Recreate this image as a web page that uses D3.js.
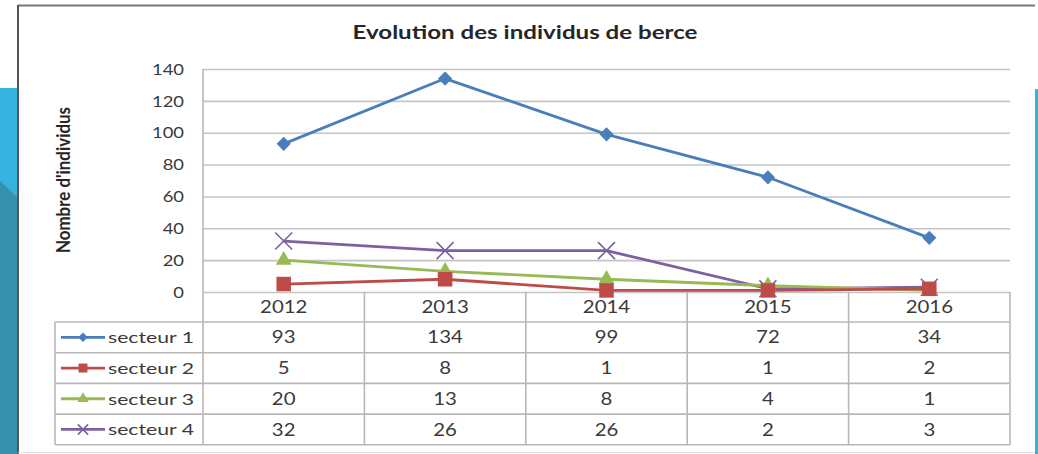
<!DOCTYPE html>
<html><head><meta charset="utf-8">
<script src="https://cdn.jsdelivr.net/npm/d3@7"></script>
<style>html,body{margin:0;padding:0;background:#fff;overflow:hidden}svg{display:block}text{font-family:Lato,"Open Sans",sans-serif;fill:#3a3a3a}</style>
</head><body><svg id="c" width="1038" height="454"></svg>
<script>
const title = "Evolution des individus de berce";
const yTitle = "Nombre d'individus";
const years = ["2012","2013","2014","2015","2016"];
const seriesNames = ["secteur 1","secteur 2","secteur 3","secteur 4"];
const secteur1 = [93,134,99,72,34];
const secteur2 = [5,8,1,1,2];
const secteur3 = [20,13,8,4,1];
const secteur4 = [32,26,26,2,3];
const yTicks = [0,20,40,60,80,100,120,140];
const colors = ["#4a7ebb","#be4b48","#98b954","#7d60a0"];
const symbols = [d3.symbolSquare, d3.symbolSquare, d3.symbolTriangle, d3.symbolX];
const rotations = [45,0,0,0];
const markerSizes = [100,210,110,190];
const keySizes = [45,80,55,70];

const series = [secteur1,secteur2,secteur3,secteur4].map((v,i)=>({name:seriesNames[i],values:v,color:colors[i],symbol:symbols[i],rot:rotations[i],ms:markerSizes[i],ks:keySizes[i],hollow:i===3}));

const svg = d3.select("#c");
const L=203,R=1010,T=69,B=292;
const rowH=30.7, tableTop=322, keyLeft=55;
const x = d3.scaleBand().domain(years).range([L,R]).padding(0);
const xc = d => x(d)+x.bandwidth()/2;
const y = d3.scaleLinear().domain([0,140]).range([B,T]);

// background decorations
svg.append("rect").attr("x",0).attr("y",88).attr("width",18).attr("height",366).attr("fill","#36b2df");
svg.append("path").attr("d","M0,181 L18,198 L18,454 L0,454 Z").attr("fill","#3591ab");
svg.append("rect").attr("x",1035).attr("y",89).attr("width",3).attr("height",365).attr("fill","#36b2df");
// frame
svg.append("rect").attr("x",18).attr("y",5).attr("width",1017).attr("height",447).attr("fill","#fff");
svg.append("line").attr("x1",18).attr("x2",1035).attr("y1",5.5).attr("y2",5.5).attr("stroke","#777").attr("stroke-width",2);
svg.append("line").attr("x1",18).attr("x2",18).attr("y1",5).attr("y2",454).attr("stroke","#555").attr("stroke-width",2);
svg.append("line").attr("x1",18).attr("x2",1035).attr("y1",452.5).attr("y2",452.5).attr("stroke","#ddd").attr("stroke-width",1);

function txt(g, px, py, s, size, sx, opts={}){
  const t = g.append("text").attr("transform",`translate(${px},${py}) scale(${sx},1)`+(opts.rot?` rotate(${opts.rot})`:""))
    .attr("font-size",size).attr("text-anchor",opts.anchor||"middle").attr("dy","0.36em").text(s);
  if(opts.bold) t.attr("font-weight","bold").style("fill","#262626");
  if(opts.len) t.attr("textLength",opts.len).attr("lengthAdjust","spacingAndGlyphs");
  return t;
}

// title
txt(svg, 525, 33, title, 18, 1, {bold:true, len:345});
txt(svg, 63, 180, yTitle, 14.5, 1.25, {bold:true, rot:-90, len:146});

// gridlines via axis
const grid = svg.append("g").attr("transform",`translate(${L},0)`)
  .call(d3.axisLeft(y).tickValues(yTicks).tickSize(-(R-L)).tickFormat(""));
grid.select(".domain").remove();
grid.selectAll(".tick line").attr("stroke","#c4c4c4").attr("stroke-width",1.6);
yTicks.forEach(v=>txt(svg, 184, y(v), String(v), 16, 1.15, {anchor:"end"}));

// table lines
const tg = svg.append("g").attr("stroke","#b8b8b8").attr("stroke-width",1.6).attr("fill","none");
const tableBottom = tableTop + rowH*4;
tg.append("line").attr("x1",L).attr("x2",L).attr("y1",T).attr("y2",tableBottom);
years.forEach((yr,i)=>{ const xx = x(yr)+x.bandwidth(); tg.append("line").attr("x1",xx).attr("x2",xx).attr("y1",B).attr("y2",tableBottom); });
for(let r=0;r<=4;r++){ tg.append("line").attr("x1",keyLeft).attr("x2",R).attr("y1",tableTop+r*rowH).attr("y2",tableTop+r*rowH); }
tg.append("line").attr("x1",keyLeft).attr("x2",keyLeft).attr("y1",tableTop).attr("y2",tableBottom);

// header years
years.forEach(yr=>txt(svg, xc(yr), 307, yr, 17, 1.2));

function marker(sel, s, size){
  return sel.attr("d",d3.symbol().type(s.symbol).size(size)())
    .attr("fill",s.hollow?"none":s.color).attr("stroke",s.hollow?s.color:"none").attr("stroke-width",1.6);
}

// table rows
series.forEach((s,i)=>{
  const cy = tableTop + rowH*i + rowH/2;
  svg.append("line").attr("x1",61).attr("x2",105).attr("y1",cy).attr("y2",cy).attr("stroke",s.color).attr("stroke-width",2.8);
  marker(svg.append("path"), s, s.ks).attr("transform",`translate(83,${cy}) rotate(${s.rot})`);
  txt(svg, 108, cy, s.name, 16, 1, {anchor:"start", len:86});
  s.values.forEach((v,j)=>txt(svg, xc(years[j]), cy, String(v), 17, 1.2));
});

// lines and markers
const line = d3.line().x((d,j)=>xc(years[j])).y(d=>y(d));
series.slice().reverse().forEach(s=>{
  svg.append("path").datum(s.values).attr("d",line).attr("fill","none").attr("stroke",s.color).attr("stroke-width",2.8).attr("stroke-linejoin","round");
});
series.slice().reverse().forEach(s=>{
  marker(svg.selectAll(null).data(s.values).enter().append("path"), s, s.ms)
    .attr("transform",(d,j)=>`translate(${xc(years[j])},${y(d)}) rotate(${s.rot})`);
});
</script></body></html>
